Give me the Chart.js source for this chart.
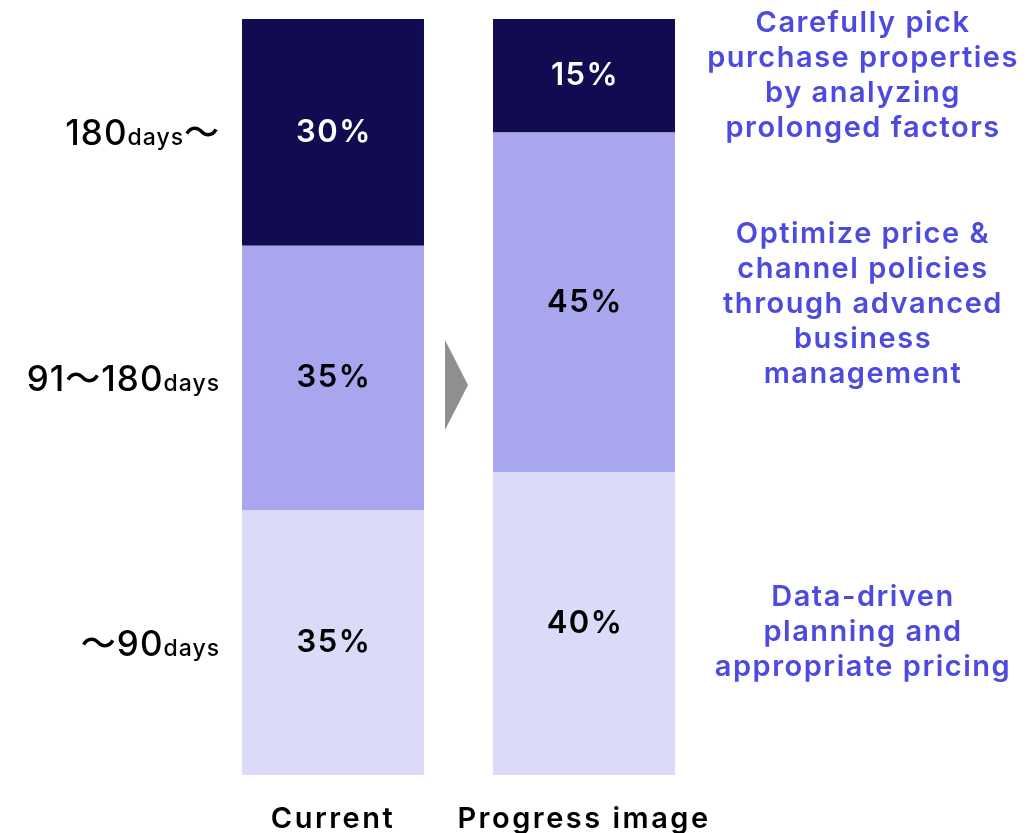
<!DOCTYPE html>
<html>
<head>
<meta charset="utf-8">
<script src="https://cdn.jsdelivr.net/npm/chart.js@4/dist/chart.umd.min.js"></script>
<style>
  html, body { margin: 0; padding: 0; background: #fff; }
  #wrap { width: 1029px; height: 833px; }
</style>
</head>
<body>
<div id="wrap"><canvas id="grafico"></canvas></div>
<script>
var categories = ['Current', 'Progress image'];
var ranges = ['～90days', '91～180days', '180days～'];
var upTo90 = [35, 40];
var from91to180 = [35, 45];
var over180 = [30, 15];
var notes = [
  ['Data-driven', 'planning and', 'appropriate pricing'],
  ['Optimize price &', 'channel policies', 'through advanced', 'business', 'management'],
  ['Carefully pick', 'purchase properties', 'by analyzing', 'prolonged factors']
];

var colors = ['#dcdaf9', '#a9a6f0', '#110c52'];
var labelColors = ['#000000', '#000000', '#ffffff'];
var noteColor = '#4d4ae0';
var FONT = 'Inter, "Noto Sans CJK JP", sans-serif';

// wider tracking for the axis labels
var tracking = {
  id: 'tracking',
  beforeDraw: function (chart) { chart.ctx.letterSpacing = '2.5px'; },
  afterDraw: function (chart) { chart.ctx.letterSpacing = '0px'; }
};

// percentages inside each segment, range labels on the left, notes on the right
var segmentText = {
  id: 'segmentText',
  afterDatasetsDraw: function (chart) {
    var ctx = chart.ctx;
    ctx.save();
    chart.data.datasets.forEach(function (ds, i) {
      var meta = chart.getDatasetMeta(i);
      meta.data.forEach(function (bar, j) {
        var mid = (bar.y + bar.base) / 2;
        ctx.fillStyle = labelColors[i];
        ctx.font = '600 31px ' + FONT;
        ctx.letterSpacing = '1.5px';
        ctx.textAlign = 'center';
        ctx.textBaseline = 'middle';
        ctx.fillText(ds.data[j] + '%', bar.x + 1, mid);

        // range name beside the first bar
        if (j === 0) {
          drawRange(ctx, ranges[i], bar.x - bar.width / 2 - 22, mid);
        }
        // note beside the second bar
        if (j === 1) {
          var lines = notes[i];
          var lh = 35;
          var top = mid - (lines.length - 1) * lh / 2 + (i === 0 ? 8 : (i === 1 ? 2 : 0));
          ctx.fillStyle = noteColor;
          ctx.font = '600 29px ' + FONT;
          ctx.letterSpacing = '1.5px';
          lines.forEach(function (t, k) {
            ctx.fillText(t, 863, top + k * lh);
          });
        }
      });
    });

    // arrow between the bars
    var a = chart.getDatasetMeta(0).data[0];
    var b = chart.getDatasetMeta(0).data[1];
    var x0 = a.x + a.width / 2 + 21;
    var x1 = b.x - b.width / 2 - 25;
    var cy = 385;
    ctx.fillStyle = '#8f8f8f';
    ctx.beginPath();
    ctx.moveTo(x0, cy - 45);
    ctx.lineTo(x1, cy);
    ctx.lineTo(x0, cy + 45);
    ctx.closePath();
    ctx.fill();
    ctx.restore();
  }
};

// "days" is set smaller than the numbers
function drawRange(ctx, text, right, cy) {
  var parts = text.split(/(days)/).filter(function (p) { return p.length; });
  var fonts = parts.map(function (p) {
    return p === 'days' ? '500 23px ' + FONT : '500 35px ' + FONT;
  });
  ctx.letterSpacing = '1px';
  var widths = parts.map(function (p, k) {
    ctx.font = fonts[k];
    return ctx.measureText(p).width;
  });
  var total = widths.reduce(function (s, w) { return s + w; }, 0);
  var x = right - total;
  ctx.fillStyle = '#000';
  ctx.textAlign = 'left';
  ctx.textBaseline = 'alphabetic';
  parts.forEach(function (p, k) {
    ctx.font = fonts[k];
    ctx.fillText(p, x, cy + 13);
    x += widths[k];
  });
  ctx.textAlign = 'center';
  ctx.textBaseline = 'middle';
}

var ctx = document.getElementById('grafico').getContext('2d');
var chart = new Chart(ctx, {
  type: 'bar',
  data: {
    labels: categories,
    datasets: [
      { label: ranges[0], data: upTo90, backgroundColor: colors[0] },
      { label: ranges[1], data: from91to180, backgroundColor: colors[1] },
      { label: ranges[2], data: over180, backgroundColor: colors[2] }
    ]
  },
  options: {
    responsive: true,
    maintainAspectRatio: false,
    animation: false,
    layout: { padding: { left: 207.5, right: 319.5, top: 19, bottom: 0 } },
    datasets: { bar: { barPercentage: 0.725, categoryPercentage: 1, borderWidth: 0 } },
    plugins: { legend: { display: false }, tooltip: { enabled: false } },
    scales: {
      x: {
        stacked: true,
        grid: { display: false },
        border: { display: false },
        afterFit: function (scale) { scale.height = 58; },
        ticks: {
          color: '#000',
          padding: 20,
          maxRotation: 0,
          font: { family: FONT, size: 29, weight: '600', lineHeight: 1.1 }
        }
      },
      y: {
        stacked: true,
        display: false,
        min: 0,
        max: 100
      }
    }
  },
  plugins: [tracking, segmentText]
});
</script>
</body>
</html>
